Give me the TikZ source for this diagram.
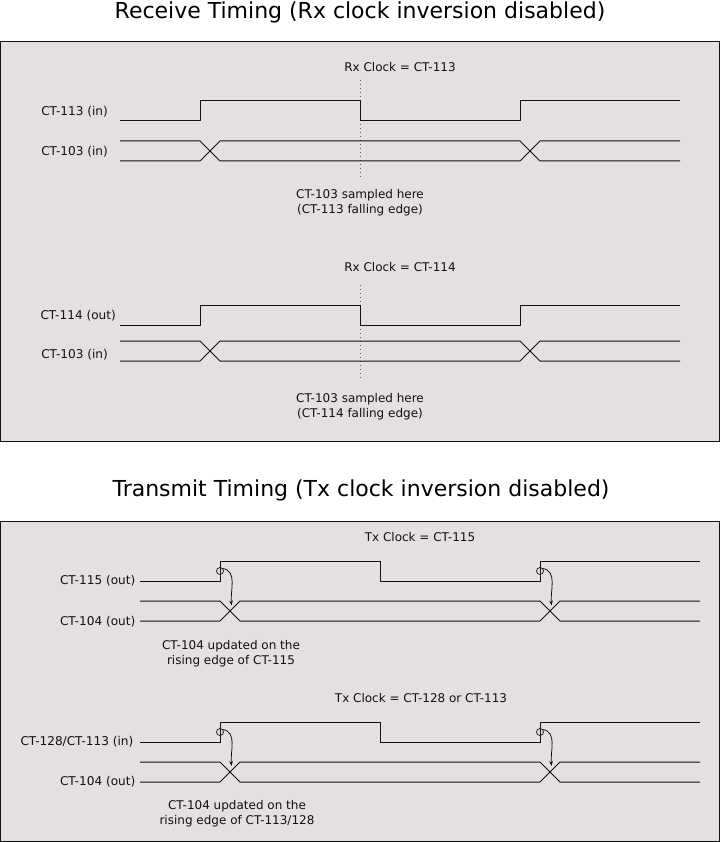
\documentclass[tikz,border=0pt]{standalone}
\usepackage{fontspec}
\setmainfont{DejaVu Sans}
\usetikzlibrary{arrows.meta}
\definecolor{panel}{HTML}{E3E0DF}
\definecolor{ink}{HTML}{111111}
\begin{document}
\begin{tikzpicture}[x=1pt,y=-1pt,
  panelbox/.style={draw=ink,line width=1pt,fill=panel},
  sig/.style={draw=ink,line width=1pt,line join=miter},
  lbl/.style={anchor=east,inner sep=0pt,font=\fontsize{12.1}{14}\selectfont,text=ink},
  note/.style={inner sep=0pt,align=center,font=\fontsize{12}{15}\selectfont,text=ink},
  ttl/.style={inner sep=0pt,font=\fontsize{22}{26}\selectfont,text=black},
  sample/.style={draw=ink!70,line width=0.8pt,dash pattern=on 1pt off 3pt},
  edgemark/.style={circle,draw=ink,line width=0.7pt,minimum size=7pt,inner sep=0pt},
  upd/.style={draw=ink,line width=0.8pt,-{Stealth[length=5pt,width=3.6pt]}}
]
\useasboundingbox (0,0) rectangle (721,842);

% titles
\node[ttl] (t1) at (360,12) {Receive Timing (Rx clock inversion disabled)};
\node[ttl] (t2) at (361,490.5) {Transmit Timing (Tx clock inversion disabled)};

% panels
\path[panelbox] (0.5,41.5) rectangle (719.5,441);
\path[panelbox] (0.5,521) rectangle (719.5,841);

% ---------- Receive part 1 ----------
\node[note] (rx1) at (400,67) {Rx Clock = CT-113};
\draw[sample] (360,80) -- (360,178);
\node[lbl] (l113) at (108,111.5) {CT-113 (in)};
\node[lbl] (l103a) at (108,151.5) {CT-103 (in)};
\draw[sig] (120,121) -- (200,121) -- (200,101) -- (360,101) -- (360,121) -- (520,121) -- (520,101) -- (680,101);
\draw[sig] (120,141) -- (200,141) -- (220,161) -- (520,161) -- (540,141) -- (680,141);
\draw[sig] (120,161) -- (200,161) -- (220,141) -- (520,141) -- (540,161) -- (680,161);
\node[note] (s1) at (360,203) {CT-103 sampled here\\(CT-113 falling edge)};

% ---------- Receive part 2 ----------
\node[note] (rx2) at (400,267) {Rx Clock = CT-114};
\draw[sample] (360,285) -- (360,381);
\node[lbl] (l114) at (116,315.5) {CT-114 (out)};
\node[lbl] (l103b) at (108,355) {CT-103 (in)};
\draw[sig] (120,325) -- (200,325) -- (200,305) -- (360,305) -- (360,325) -- (520,325) -- (520,305) -- (680,305);
\draw[sig] (120,341) -- (200,341) -- (220,361) -- (520,361) -- (540,341) -- (680,341);
\draw[sig] (120,361) -- (200,361) -- (220,341) -- (520,341) -- (540,361) -- (680,361);
\node[note] (s2) at (360,407) {CT-103 sampled here\\(CT-114 falling edge)};

% ---------- Transmit part 1 ----------
\node[note] (tx1) at (420,537) {Tx Clock = CT-115};
\node[lbl] (l115) at (135.5,581) {CT-115 (out)};
\node[lbl] (l104a) at (135.5,621.5) {CT-104 (out)};
\draw[sig] (140,581) -- (220,581) -- (220,561) -- (380,561) -- (380,581) -- (540,581) -- (540,561) -- (700,561);
\draw[sig] (140,601) -- (220,601) -- (240,621) -- (540,621) -- (560,601) -- (700,601);
\draw[sig] (140,621) -- (220,621) -- (240,601) -- (540,601) -- (560,621) -- (700,621);
\node[edgemark] (e1) at (220,571) {};
\node[edgemark] (e2) at (540,571) {};
\coordinate (x1) at (231.5,605.5);
\coordinate (x2) at (551.5,605.5);
\draw[upd] (e1.40) to[out=-10,in=95] (x1);
\draw[upd] (e2.40) to[out=-10,in=95] (x2);
\node[note] (u1) at (231,654) {CT-104 updated on the\\rising edge of CT-115};

% ---------- Transmit part 2 ----------
\node[note] (tx2) at (421,698) {Tx Clock = CT-128 or CT-113};
\node[lbl] (l128) at (133.5,742) {CT-128/CT-113 (in)};
\node[lbl] (l104b) at (135.5,782) {CT-104 (out)};
\draw[sig] (140,742) -- (220,742) -- (220,722) -- (380,722) -- (380,742) -- (540,742) -- (540,722) -- (700,722);
\draw[sig] (140,762) -- (220,762) -- (240,782) -- (540,782) -- (560,762) -- (700,762);
\draw[sig] (140,782) -- (220,782) -- (240,762) -- (540,762) -- (560,782) -- (700,782);
\node[edgemark] (e3) at (220,732) {};
\node[edgemark] (e4) at (540,732) {};
\coordinate (x3) at (231.5,766);
\coordinate (x4) at (551.5,766);
\draw[upd] (e3.40) to[out=-10,in=95] (x3);
\draw[upd] (e4.40) to[out=-10,in=95] (x4);
\node[note] (u2) at (237,814) {CT-104 updated on the\\rising edge of CT-113/128};
\end{tikzpicture}
\end{document}
